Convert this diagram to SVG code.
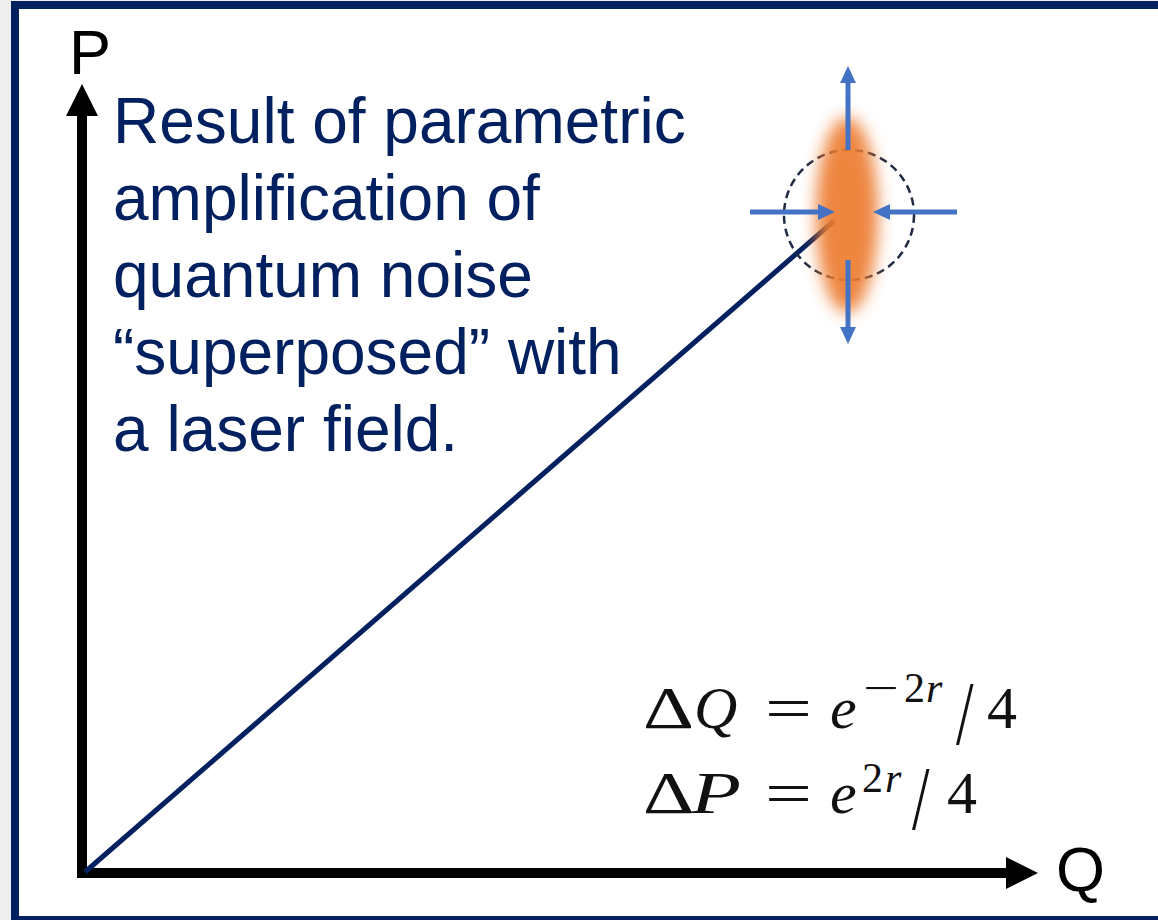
<svg xmlns="http://www.w3.org/2000/svg" width="1158" height="920" viewBox="0 0 1158 920">
  <style>
    .label { font-family: "Liberation Sans", Arial, sans-serif; font-size: 64px; fill: #002060; }
    .axislbl { font-family: "Liberation Sans", Arial, sans-serif; font-size: 63px; fill: #000000; }
    .m { font-family: "Liberation Serif", "Times New Roman", serif; font-size: 60px; fill: #111111; }
    .mi { font-style: italic; }
    .sup { font-size: 42px; }
    .axis { stroke: #000000; stroke-width: 10; fill: none; }
    .blue { stroke: #4472C4; stroke-width: 5; fill: none; }
  </style>
  <defs>
    <marker id="axisHead" viewBox="0 0 32 32" markerWidth="32" markerHeight="32" refX="0" refY="16" orient="auto" markerUnits="userSpaceOnUse">
      <path d="M0,0 L32,16 L0,32 z" fill="#000000"/>
    </marker>
    <marker id="blueHead" viewBox="0 0 17 16" markerWidth="17" markerHeight="16" refX="0" refY="8" orient="auto" markerUnits="userSpaceOnUse">
      <path d="M0,0 L17,8 L0,16 z" fill="#4472C4"/>
    </marker>
    <filter id="blur" x="-1" y="-0.5" width="3" height="2">
      <feGaussianBlur stdDeviation="8"/>
    </filter>
  </defs>

  <rect x="0" y="0" width="1158" height="920" fill="#eeeeee"/>
  <rect id="frame" x="15" y="5" width="1160" height="915" fill="#ffffff" stroke="#002060" stroke-width="8"/>

  <g id="connectors">
    <line class="axis" x1="82" y1="878" x2="82" y2="116" marker-end="url(#axisHead)"/>
    <line class="axis" x1="77" y1="873" x2="1006" y2="873" marker-end="url(#axisHead)"/>
    <line id="vector" x1="85" y1="872" x2="834" y2="221" stroke="#002060" stroke-width="5"/>
  </g>

  <g id="state">
    <circle cx="849" cy="215" r="65" fill="none" stroke="#1f2a44" stroke-width="2.5" stroke-dasharray="8,5"/>
    <ellipse cx="847" cy="215" rx="31" ry="98" fill="#ED7D31" opacity="0.93" filter="url(#blur)"/>
    <line class="blue" x1="848" y1="150" x2="848" y2="83" marker-end="url(#blueHead)"/>
    <line class="blue" x1="848" y1="260" x2="848" y2="327" marker-end="url(#blueHead)"/>
    <line class="blue" x1="750" y1="212" x2="818" y2="212" marker-end="url(#blueHead)"/>
    <line class="blue" x1="957" y1="212" x2="890" y2="212" marker-end="url(#blueHead)"/>
  </g>

  <g id="axis-labels">
    <text class="axislbl" x="69" y="74">P</text>
    <text class="axislbl" x="1056" y="891">Q</text>
  </g>

  <g id="caption">
    <text class="label" x="113" y="143">Result of parametric</text>
    <text class="label" x="113" y="220">amplification of</text>
    <text class="label" x="113" y="297">quantum noise</text>
    <text class="label" x="113" y="374">“superposed” with</text>
    <text class="label" x="113" y="451">a laser field.</text>
  </g>

  <g id="formula">
    <text class="m" x="643" y="728" textLength="51" lengthAdjust="spacingAndGlyphs">Δ</text>
    <text class="m mi" x="694" y="728">Q</text>
    <text class="m" x="765" y="728" textLength="47" lengthAdjust="spacingAndGlyphs">=</text>
    <text class="m mi" x="830" y="728">e</text>
    <text class="m sup" x="863" y="702" textLength="36" lengthAdjust="spacingAndGlyphs">−</text>
    <text class="m sup" x="904" y="702">2</text>
    <text class="m sup mi" x="926" y="702">r</text>
    <text class="m" transform="translate(956,744) scale(1.05,1.5)" x="0" y="0">/</text>
    <text class="m" x="987" y="728">4</text>

    <text class="m" x="643" y="813" textLength="51" lengthAdjust="spacingAndGlyphs">Δ</text>
    <text class="m mi" x="691" y="813" textLength="50" lengthAdjust="spacingAndGlyphs">P</text>
    <text class="m" x="765" y="813" textLength="47" lengthAdjust="spacingAndGlyphs">=</text>
    <text class="m mi" x="830" y="813">e</text>
    <text class="m sup" x="862" y="792">2</text>
    <text class="m sup mi" x="885" y="792">r</text>
    <text class="m" transform="translate(912,829) scale(1.05,1.5)" x="0" y="0">/</text>
    <text class="m" x="947" y="813">4</text>
  </g>
</svg>
